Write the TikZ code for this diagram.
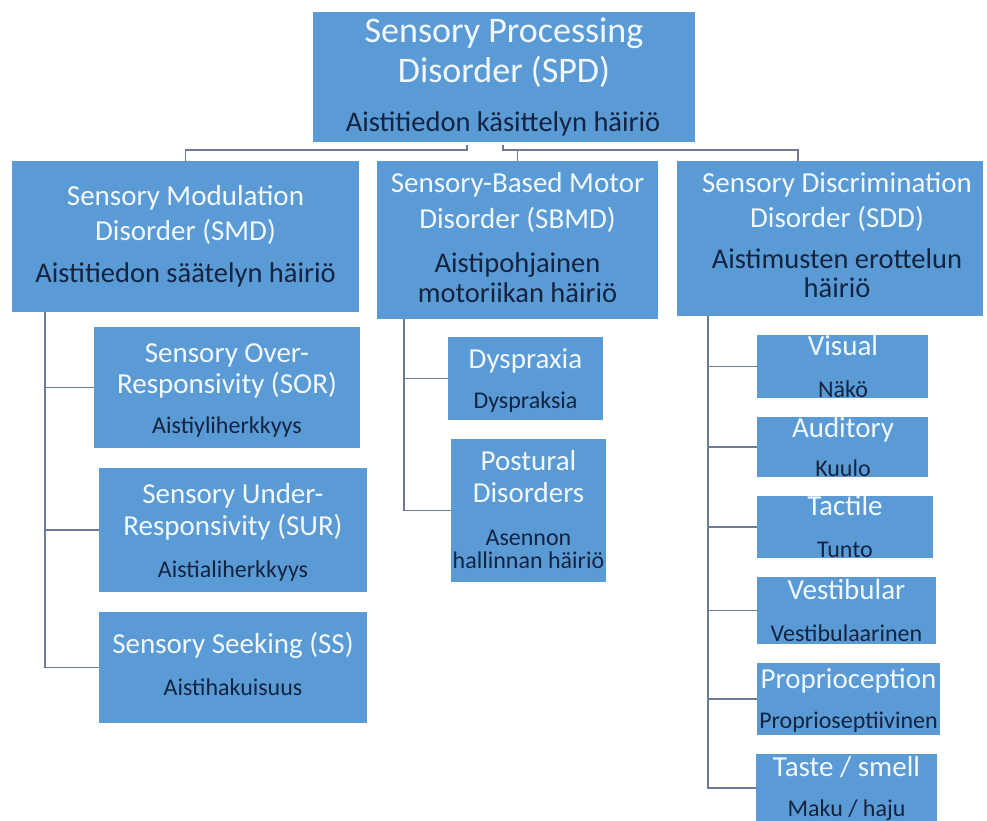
\documentclass[tikz,border=0pt]{standalone}
\usepackage{fontspec}
\setmainfont{Carlito}
\definecolor{boxblue}{HTML}{5B9BD5}
\definecolor{subdark}{HTML}{132340}
\definecolor{linec}{HTML}{6B7D96}
\definecolor{ttlwhite}{HTML}{F2F8FF}
\begin{document}
\begin{tikzpicture}[x=1pt,y=-1pt,
  box/.style={fill=boxblue, draw=none, inner sep=0pt, outer sep=0pt, anchor=north west},
  conn/.style={draw=linec, line width=1.6pt},
  ttl/.style={text=ttlwhite, anchor=base, inner sep=0pt, font=\fontsize{29}{35}\selectfont},
  bigttl/.style={text=ttlwhite, anchor=base, inner sep=0pt, font=\fontsize{36}{43}\selectfont},
  sub/.style={text=subdark, anchor=base, inner sep=0pt, font=\fontsize{24}{29}\selectfont},
  bigsub/.style={text=subdark, anchor=base, inner sep=0pt, font=\fontsize{28.5}{34}\selectfont}]
\useasboundingbox (0,0) rectangle (987,821);
\fill[white] (0,0) rectangle (987,821);

% boxes
\node[box, minimum width=382pt, minimum height=130pt] (spd) at (313,12) {};
\node[box, minimum width=347pt, minimum height=151pt] (smd) at (12,161) {};
\node[box, minimum width=281pt, minimum height=158pt] (sbmd) at (377,161) {};
\node[box, minimum width=306pt, minimum height=155pt] (sdd) at (677,161) {};
\node[box, minimum width=266pt, minimum height=121pt] (sor) at (94,327) {};
\node[box, minimum width=268pt, minimum height=124pt] (sur) at (99,468) {};
\node[box, minimum width=268pt, minimum height=111pt] (ss) at (99,612) {};
\node[box, minimum width=155pt, minimum height=83pt] (dys) at (448,337) {};
\node[box, minimum width=155pt, minimum height=143pt] (pos) at (451,439) {};
\node[box, minimum width=171pt, minimum height=63pt] (vis) at (757,335) {};
\node[box, minimum width=171pt, minimum height=60pt] (aud) at (757,417) {};
\node[box, minimum width=176pt, minimum height=62pt] (tac) at (757,496) {};
\node[box, minimum width=179pt, minimum height=67pt] (ves) at (757,577) {};
\node[box, minimum width=183pt, minimum height=72pt] (pro) at (757,663) {};
\node[box, minimum width=181pt, minimum height=68pt] (tas) at (756,754) {};

% texts
\node[bigttl] (t1) at (504,43) {Sensory Processing};
\node[bigttl] (t2) at (504,83) {Disorder (SPD)};
\node[bigsub] (t3) at (503,132) {Aistitiedon käsittelyn häiriö};

\node[ttl] (a1) at (185.5,205) {Sensory Modulation};
\node[ttl] (a2) at (185.5,240) {Disorder (SMD)};
\node[bigsub] (a3) at (185.5,282) {Aistitiedon säätelyn häiriö};

\node[ttl] (b1) at (517.5,193) {Sensory-Based Motor};
\node[ttl] (b2) at (517.5,228) {Disorder (SBMD)};
\node[bigsub] (b3) at (517.5,272) {Aistipohjainen};
\node[bigsub] (b4) at (517.5,302) {motoriikan häiriö};

\node[ttl] (c1) at (837,193) {Sensory Discrimination};
\node[ttl] (c2) at (837,227) {Disorder (SDD)};
\node[bigsub] (c3) at (837,268) {Aistimusten erottelun};
\node[bigsub] (c4) at (837,297) {häiriö};

\node[ttl] (d1) at (227,362) {Sensory Over-};
\node[ttl] (d2) at (227,393) {Responsivity (SOR)};
\node[sub] (d3) at (227,433) {Aistiyliherkkyys};

\node[ttl] (e1) at (233,503) {Sensory Under-};
\node[ttl] (e2) at (233,535) {Responsivity (SUR)};
\node[sub] (e3) at (233,577) {Aistialiherkkyys};

\node[ttl] (f1) at (233,653) {Sensory Seeking (SS)};
\node[sub] (f3) at (233,695) {Aistihakuisuus};

\node[ttl] (g1) at (525.5,368) {Dyspraxia};
\node[sub] (g3) at (525.5,408) {Dyspraksia};

\node[ttl] (h1) at (528.5,470) {Postural};
\node[ttl] (h2) at (528.5,502) {Disorders};
\node[sub] (h3) at (528.5,545) {Asennon};
\node[sub] (h4) at (528.5,568) {hallinnan häiriö};

\node[ttl] (i1) at (843,355) {Visual};
\node[sub] (i3) at (843,397) {Näkö};
\node[ttl] (j1) at (843,437) {Auditory};
\node[sub] (j3) at (843,476) {Kuulo};
\node[ttl] (k1) at (845,515) {Tactile};
\node[sub] (k3) at (845,557) {Tunto};
\node[ttl] (l1) at (846.5,599) {Vestibular};
\node[sub] (l3) at (846.5,641) {Vestibulaarinen};
\node[ttl] (m1) at (848.5,688) {Proprioception};
\node[sub] (m3) at (848.5,728) {Proprioseptiivinen};
\node[ttl] (n1) at (846.5,776) {Taste / smell};
\node[sub] (n3) at (846.5,816) {Maku / haju};

% connectors top level
\coordinate (hl) at (467,150);
\coordinate (hr) at (503,150);
\coordinate (sddin) at (798,161);
\draw[conn] (smd.north) |- (hl) -- (467,145);
\draw[conn] (sddin) |- (hr) -- (503,145);
\draw[conn] (sbmd.north) -- (sbmd.north |- hr);

% SMD children
\coordinate (smdsp) at (45,312);
\draw[conn] (smdsp) |- (sor.west);
\draw[conn] (smdsp) |- (sur.west);
\draw[conn] (smdsp) |- (ss.west);

% SBMD children
\coordinate (sbmdsp) at (404,319);
\draw[conn] (sbmdsp) |- (dys.west);
\draw[conn] (sbmdsp) |- (pos.west);

% SDD children
\coordinate (sddsp) at (708,316);
\draw[conn] (sddsp) |- (vis.west);
\draw[conn] (sddsp) |- (aud.west);
\draw[conn] (sddsp) |- (tac.west);
\draw[conn] (sddsp) |- (ves.west);
\draw[conn] (sddsp) |- (pro.west);
\draw[conn] (sddsp) |- (tas.west);
\end{tikzpicture}
\end{document}
